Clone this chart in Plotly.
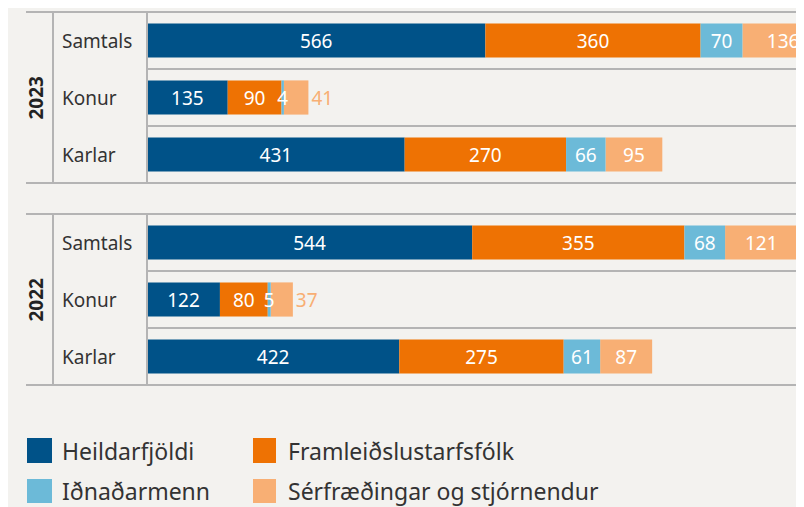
import plotly.graph_objects as go

# ---------------- data ----------------
categories = ["Samtals", "Konur", "Karlar"]
years = ["2023", "2022"]
series_names = ["Heildarfjöldi", "Framleiðslustarfsfólk", "Iðnaðarmenn", "Sérfræðingar og stjórnendur"]

heildarfjoldi_2023 = [566, 135, 431]
framleidslu_2023 = [360, 90, 270]
idnadarmenn_2023 = [70, 4, 66]
serfraedingar_2023 = [136, 41, 95]

heildarfjoldi_2022 = [544, 122, 422]
framleidslu_2022 = [355, 80, 275]
idnadarmenn_2022 = [68, 5, 61]
serfraedingar_2022 = [121, 37, 87]

# ---------------- style ----------------
colors = ["#005288", "#ee7203", "#6cbad8", "#f8af74"]
BG = "#f3f2ef"
LINE = "#b4b4b4"
TXT = "#333333"
FONT = "Noto Sans"

OFF = 8  # page body margin
W, H = 804 - OFF, 507 - OFF
ML, MR, MT, MB = 147 - OFF, 0, 12 - OFF, 122
PW = W - ML - MR
PH = H - MT - MB


def px_x(px):  # reference pixel -> paper
    return (px - OFF - ML) / PW


def px_y(py):
    return (H - MB - (py - OFF)) / PH


panels = [
    ("2023", [heildarfjoldi_2023, framleidslu_2023, idnadarmenn_2023, serfraedingar_2023], "x", "y"),
    ("2022", [heildarfjoldi_2022, framleidslu_2022, idnadarmenn_2022, serfraedingar_2022], "x2", "y2"),
]

fig = go.Figure()
draw_order = [0, 1, 3, 2]  # draw light-blue last so its small labels sit on top
for year, series, xa, ya in panels:
    bases = []
    acc = [0, 0, 0]
    for vals in series:
        bases.append(list(acc))
        acc = [a + v for a, v in zip(acc, vals)]
    for i in draw_order:
        name, vals = series_names[i], series[i]
        if i == 3:
            tpos = ["inside", "outside", "inside"]
            tcol = ["white", colors[3], "white"]
        else:
            tpos = "inside"
            tcol = "white"
        fig.add_trace(go.Bar(
            x=vals, base=bases[i], y=categories, orientation="h", name=name,
            marker=dict(color=colors[i], line=dict(width=0)),
            text=[str(v) for v in vals], textposition=tpos,
            insidetextanchor="middle", constraintext="none", textangle=0,
            textfont=dict(color=tcol, size=19, family=FONT),
            cliponaxis=True, width=0.6, showlegend=False,
            xaxis=xa, yaxis=ya, hoverinfo="skip",
        ))

XMAX = 1099
top_dom = [px_y(183), px_y(12)]
bot_dom = [px_y(385), px_y(214)]

fig.update_layout(
    width=W, height=H, barmode="overlay",
    paper_bgcolor=BG, plot_bgcolor=BG,
    margin=dict(l=ML, r=MR, t=MT, b=MB),
    font=dict(family=FONT, color=TXT),
    showlegend=False,
    xaxis=dict(range=[0, XMAX], visible=False, anchor="y", domain=[0, 1]),
    xaxis2=dict(range=[0, XMAX], visible=False, anchor="y2", domain=[0, 1], matches="x"),
    yaxis=dict(domain=top_dom, type="category", categoryorder="array", categoryarray=categories,
               range=[2.5, -0.5], showticklabels=False, showgrid=False, zeroline=False, anchor="x"),
    yaxis2=dict(domain=bot_dom, type="category", categoryorder="array", categoryarray=categories,
                range=[2.5, -0.5], showticklabels=False, showgrid=False, zeroline=False, anchor="x2"),
)

shapes = []
annotations = []
for year, series, xa, ya in panels:
    dom = ya + " domain"
    for yy in (0, 1):
        shapes.append(dict(type="line", xref="paper", yref=dom, x0=px_x(26), x1=1, y0=yy, y1=yy,
                           line=dict(color=LINE, width=2)))
    for yy in (0.5, 1.5):
        shapes.append(dict(type="line", xref="paper", yref=ya, x0=0, x1=1, y0=yy, y1=yy,
                           line=dict(color=LINE, width=2)))
    for xx in (px_x(53), 0):
        shapes.append(dict(type="line", xref="paper", yref=dom, x0=xx, x1=xx, y0=0, y1=1,
                           line=dict(color=LINE, width=2)))
    for c in categories:
        annotations.append(dict(text=c, xref="paper", yref=ya, x=px_x(60), y=c,
                                xanchor="left", yanchor="middle", showarrow=False,
                                font=dict(size=19, color=TXT, family=FONT)))
    annotations.append(dict(text="<b>" + year + "</b>", xref="paper", yref=dom, x=px_x(35), y=0.5,
                            textangle=-90, xanchor="center", yanchor="middle", showarrow=False,
                            font=dict(size=19, color="#222222", family=FONT)))

# custom legend
leg_cols = [(27, 52, 60), (253, 276, 286)]
leg_rows = [(438, 463), (479, 503)]
for k, name in enumerate(series_names):
    col = leg_cols[k % 2]
    row = leg_rows[k // 2]
    shapes.append(dict(type="rect", xref="paper", yref="paper",
                       x0=px_x(col[0]), x1=px_x(col[1]), y0=px_y(row[1]), y1=px_y(row[0]),
                       fillcolor=colors[k], line=dict(width=0)))
    annotations.append(dict(text=name, xref="paper", yref="paper", x=px_x(col[2]),
                            y=px_y((row[0] + row[1]) / 2), xanchor="left", yanchor="middle",
                            showarrow=False, font=dict(size=23, color=TXT, family=FONT)))

fig.update_layout(shapes=shapes, annotations=annotations)
fig.write_html("out.html")
